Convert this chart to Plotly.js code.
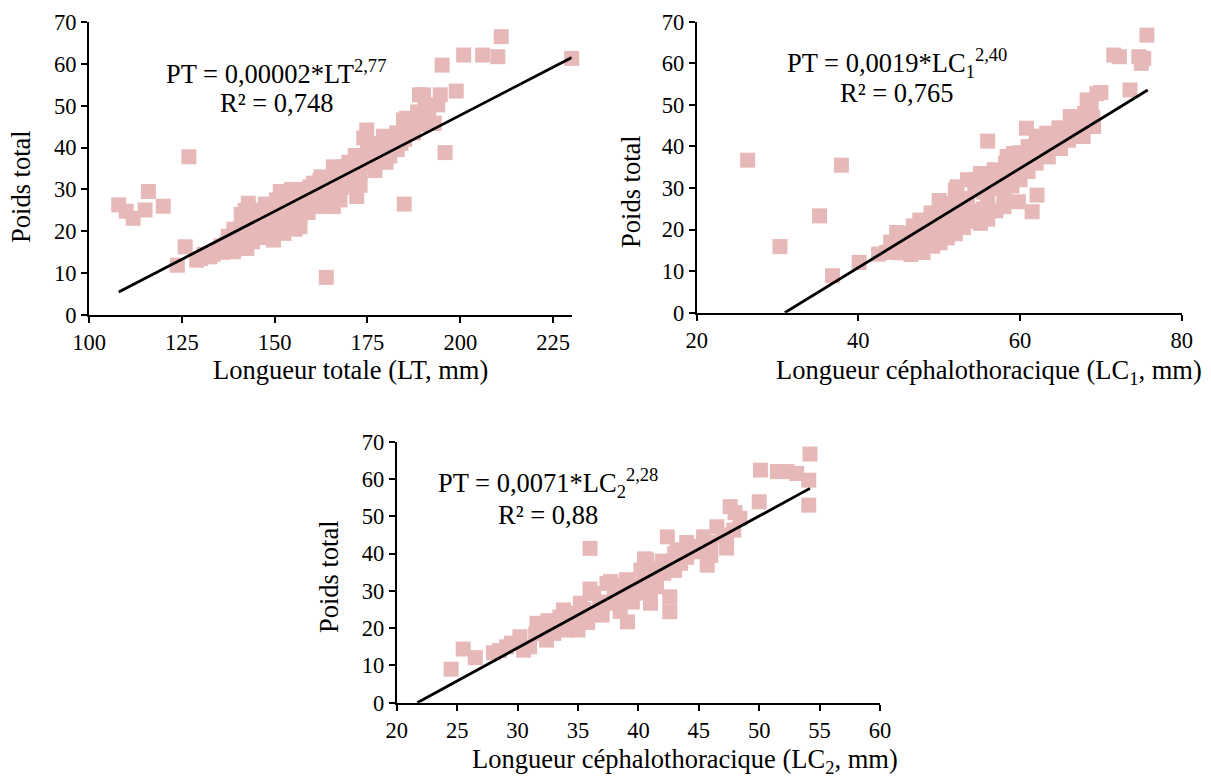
<!DOCTYPE html>
<html>
<head>
<meta charset="utf-8">
<script src="https://cdn.plot.ly/plotly-3.0.1.min.js"></script>
<style>html,body{margin:0;padding:0;background:#fff;}#chart{width:1211px;height:779px;}</style>
</head>
<body>
<div id="chart"></div>
<script>
// ---- Data: Poids total (PT) vs Longueur totale (LT, mm)
const ltX = [108,110,111.9,115.1,116,120,126.9,123.8,125.9,163.9,184.9,195.9,195.1,200.9,206,210.1,211,230,
  190.1,194.6,198.9,193.9,193,185.4,189,190.5,192.3,184.7,187.4,188.5,191.5,
  174.8,174,179.3,182.9,187.4,181.1,178.4,171.7,168.5,165.8,176.1,173,172.1,162.2,159.5,165.8,167.6,164,158.6,185,183,180,177,170,172,175,169,167,178,186,189,176,181,184,173,170,
  142.9,145,141.6,139.8,137.1,138.9,142.5,140.6,132.6,129,134.4,147.9,149.7,148.8,152.3,156.8,153.2,156.8,156.8,160.4,161.3,165.8,144.1,145.9,131,135.5,137.5,140,143.5,146,147.5,150,151,152.5,154,155,158,160,162,163.5,157.5,159,161,163,150.5,148,144,146.5,153.5,155.5,158,162.5,151.5,149.5,141,143,139,136,133.5,130,166.5,168,171,
  174.5,177.5,180.5,182.5,186.5,171,168.8,163,159.5,154.5,148.5,145.5,142];
const ltY = [26.3,24.8,23.1,25.1,29.5,26,37.8,11.9,16.3,9,26.5,38.8,59.7,62.1,62.1,61.7,66.5,61.3,
  52.6,52.6,53.5,50.2,45.8,47,52.6,49.9,45.8,46.6,46.3,48.5,47.5,
  44.2,42.3,42.7,43.5,43.5,40.5,38.9,38.1,35.4,35.4,36.2,33.8,28.3,32.2,30.6,30.6,27.5,26,29,42,39.5,36.5,34.5,31.5,35,40,33.5,29,41,44.5,45.5,38,38,41,31,36.5,
  26.7,25.1,21.9,19.5,17.1,15.1,15.9,17.9,13.9,13.1,15.5,19.5,17.9,22.7,29.1,29.1,25.1,21.1,23.5,31.5,25.9,25.9,23.5,21.1,14.5,16.5,18.8,16,19.5,24,26.5,24,21,19.5,28,26,27,28.5,29,31,25,24.5,27,28,27.5,20.5,17.5,18.5,23,20.5,30,33,29.5,25.5,24,22,20.5,15,14.5,13.5,32.5,30.5,32.5,
  37.5,39.5,42.5,41.5,46,34.5,33,30,27.5,30,23.5,20,25];
const ltTrendX = [108, 230];
const ltTrendY = [5.5, 61.5];

// ---- Data: PT vs Longueur céphalothoracique LC1 (mm)
const lc1X = [26.3,37.9,35.2,30.3,36.8,40.1,56,60.8,62.1,61.5,59.8,71.6,72.3,74.7,75.3,75,75.7,73.6,
  42.5,43.5,44.75,45.3,46,46.8,46,47.6,47.6,48.5,48.5,49.2,49.5,50.1,50.1,50.5,51,51.5,52,52.6,52.2,53,53,53.5,54,54.7,55.1,55.1,55.5,55.5,56,56.8,56.5,57,57.5,58,58.2,58.4,58.5,59,59.2,59.5,60,60,60.5,61,61,61.5,62,62,62.5,63,63.3,63.5,64,64.5,65,65.5,66,66.2,66.6,67,67.5,67.8,68,68.3,69.1,69.5,68.8,69,70,
  44,45,47,48,46.5,49,50,51,52,53.5,54,56,57,58,
  45.5,47.2,48.8,50.8,52.4,54.4,56.2,57.8,59.6,61.4,63.2,64.8,66.5,68.2];
const lc1Y = [36.7,35.5,23.3,15.9,8.9,12.1,41.3,44.4,28.3,24.3,26.7,62,61.6,61.6,61.2,60,66.8,53.6,
  14.1,14.5,19.3,14.4,16,20.9,19.1,16.4,22.3,17.5,21.5,16,19.5,16.8,23.1,20,26.3,22,29.5,23.1,30.3,25,20.5,27.5,22,32,21.5,33.5,25,29,27,34.4,31,24.5,30,28,36,37.6,33,30.5,38.3,35,32,38.5,36,34,40,38,36,41,42.5,39,43.2,37.5,41,42.5,39.5,43,41.5,47.2,45.6,44,46.5,42.4,48,51.2,44.8,52.7,49.6,47,53,
  17,17.5,18.5,14.5,14,24,27,18,19,32,24.5,22.5,34,25.5,
  18,20,19,24.5,27,29.5,30,32.5,35.5,37,40.5,44.5,43.5,46];
const lc1TrendX = [30.9, 75.8];
const lc1TrendY = [0, 53.6];

// ---- Data: PT vs Longueur céphalothoracique LC2 (mm)
const lc2X = [24.5,25.5,26.5,36,42.6,42.6,39.1,50,50.1,51.5,52.3,53.1,54.1,54.2,54.1,
  28,28.5,29.1,29.5,30.2,30.5,31,31.6,31.5,32,32.4,33,33,33.5,33.8,34,34.6,34.5,35,35.2,35.5,35.8,36.3,36.5,37,37,37.4,37.9,38,38.5,38.5,39,39.6,39.5,40,40.2,40.5,40.7,41,41,41.5,41.5,42,42.1,42.4,42.5,43,43.2,43.5,44,44.6,45,45.4,45.7,46,46.5,47,47.3,47.3,47.6,47.9,48.4,48,46,44,40.5,39,36,34,32.5,30,38,36.8,35,43,41.1,40.5,38.8,37.7,41];
const lc2Y = [9,14.4,12.1,41.4,28.4,24.4,21.7,53.9,62.4,62,62,61.5,59.7,66.7,53,
  13.4,14,15,16,17.7,14.1,15,21.3,18.5,20,16.8,18.6,21.5,23,24.9,21,20.4,24,22,26.7,25,21.5,29.3,24,27,23.5,32,26.7,29,27.5,24.5,30.5,29.3,27,31.5,35.6,33,38.3,27.5,36,31.1,34,38,34.7,44.5,36.5,40,41,37.4,39,41.9,40.5,44.5,36.9,43,47.2,45,42.8,41.5,52.6,46.3,49.5,51,39.5,43,29.5,33,30.5,19.5,22,16,31.5,25.5,19.5,35.5,33.8,38.6,31.1,32.5,26.7];
const lc2TrendX = [21.7, 54.2];
const lc2TrendY = [0, 57.5];

// ---- Text
const yTitle = 'Poids total';
const xTitle1 = 'Longueur totale (LT, mm)';
const xTitle2 = 'Longueur céphalothoracique (LC<sub>1</sub>, mm)';
const xTitle3 = 'Longueur céphalothoracique (LC<sub>2</sub>, mm)';
const eq1 = 'PT = 0,00002*LT<sup>2,77</sup>';
const r1 = 'R² = 0,748';
const eq2 = 'PT = 0,0019*LC<sub>1</sub><sup>2,40</sup>';
const r2 = 'R² = 0,765';
const eq3 = 'PT = 0,0071*LC<sub>2</sub><sup>2,28</sup>';
const r3 = 'R² = 0,88';

const FONT = 'Liberation Serif';
const markerColor = 'rgb(230,185,184)';

function pts(x, y, xa, ya) {
  return {x: x, y: y, xaxis: xa, yaxis: ya, type: 'scatter', mode: 'markers', cliponaxis: false,
    marker: {symbol: 'square', size: 15, color: markerColor, line: {width: 0}}, hoverinfo: 'x+y'};
}
function trend(x, y, xa, ya) {
  return {x: x, y: y, xaxis: xa, yaxis: ya, type: 'scatter', mode: 'lines', cliponaxis: false,
    line: {color: '#000', width: 2.8}, hoverinfo: 'skip'};
}

const data = [
  pts(ltX, ltY, 'x', 'y'), trend(ltTrendX, ltTrendY, 'x', 'y'),
  pts(lc1X, lc1Y, 'x2', 'y2'), trend(lc1TrendX, lc1TrendY, 'x2', 'y2'),
  pts(lc2X, lc2Y, 'x3', 'y3'), trend(lc2TrendX, lc2TrendY, 'x3', 'y3')
];

function ax(domain, range, dtick, anchor) {
  return {domain: domain, range: range, dtick: dtick, tick0: range[0], anchor: anchor,
    showline: true, linecolor: '#000', linewidth: 2, ticks: 'outside', ticklen: 6, tickwidth: 2, tickcolor: '#000',
    showgrid: false, zeroline: false, fixedrange: true,
    tickfont: {family: FONT, size: 22.5, color: '#000'}};
}

function txt(text, x, y, size, angle) {
  return {text: text, x: x, y: y, xref: 'paper', yref: 'paper', xanchor: 'center', yanchor: 'middle',
    showarrow: false, textangle: angle || 0, font: {family: FONT, size: size, color: '#000'}};
}

const layout = {
  width: 1211, height: 779,
  margin: {l: 0, r: 0, t: 0, b: 0},
  paper_bgcolor: '#fff', plot_bgcolor: '#fff',
  font: {family: FONT, color: '#000'},
  showlegend: false,
  xaxis: ax([0.0735, 0.4721], [100, 230], 25, 'y'),
  yaxis: ax([0.5956, 0.9718], [0, 70], 10, 'x'),
  xaxis2: ax([0.5753, 0.9758], [20, 80], 20, 'y2'),
  yaxis2: ax([0.5986, 0.9720], [0, 70], 10, 'x2'),
  xaxis3: ax([0.3276, 0.7267], [20, 60], 5, 'y3'),
  yaxis3: ax([0.0979, 0.4329], [0, 70], 10, 'x3'),
  annotations: [
    txt(xTitle1, 0.2898, 0.5250, 26.5),
    txt(xTitle2, 0.8167, 0.5225, 26.5),
    txt(xTitle3, 0.5656, 0.0230, 26.5),
    txt(yTitle, 0.0173, 0.7612, 26.5, -90),
    txt(yTitle, 0.5210, 0.7548, 26.5, -90),
    txt(yTitle, 0.2717, 0.2593, 26.5, -90),
    txt(eq1, 0.2279, 0.9076, 26.5),
    txt(r1, 0.2285, 0.8678, 26.5),
    txt(eq2, 0.7411, 0.9187, 26.5),
    txt(r2, 0.7405, 0.8802, 26.5),
    txt(eq3, 0.4525, 0.3796, 26.5),
    txt(r3, 0.4525, 0.3389, 26.5)
  ]
};

Plotly.newPlot('chart', data, layout, {displayModeBar: false});
</script>
</body>
</html>
